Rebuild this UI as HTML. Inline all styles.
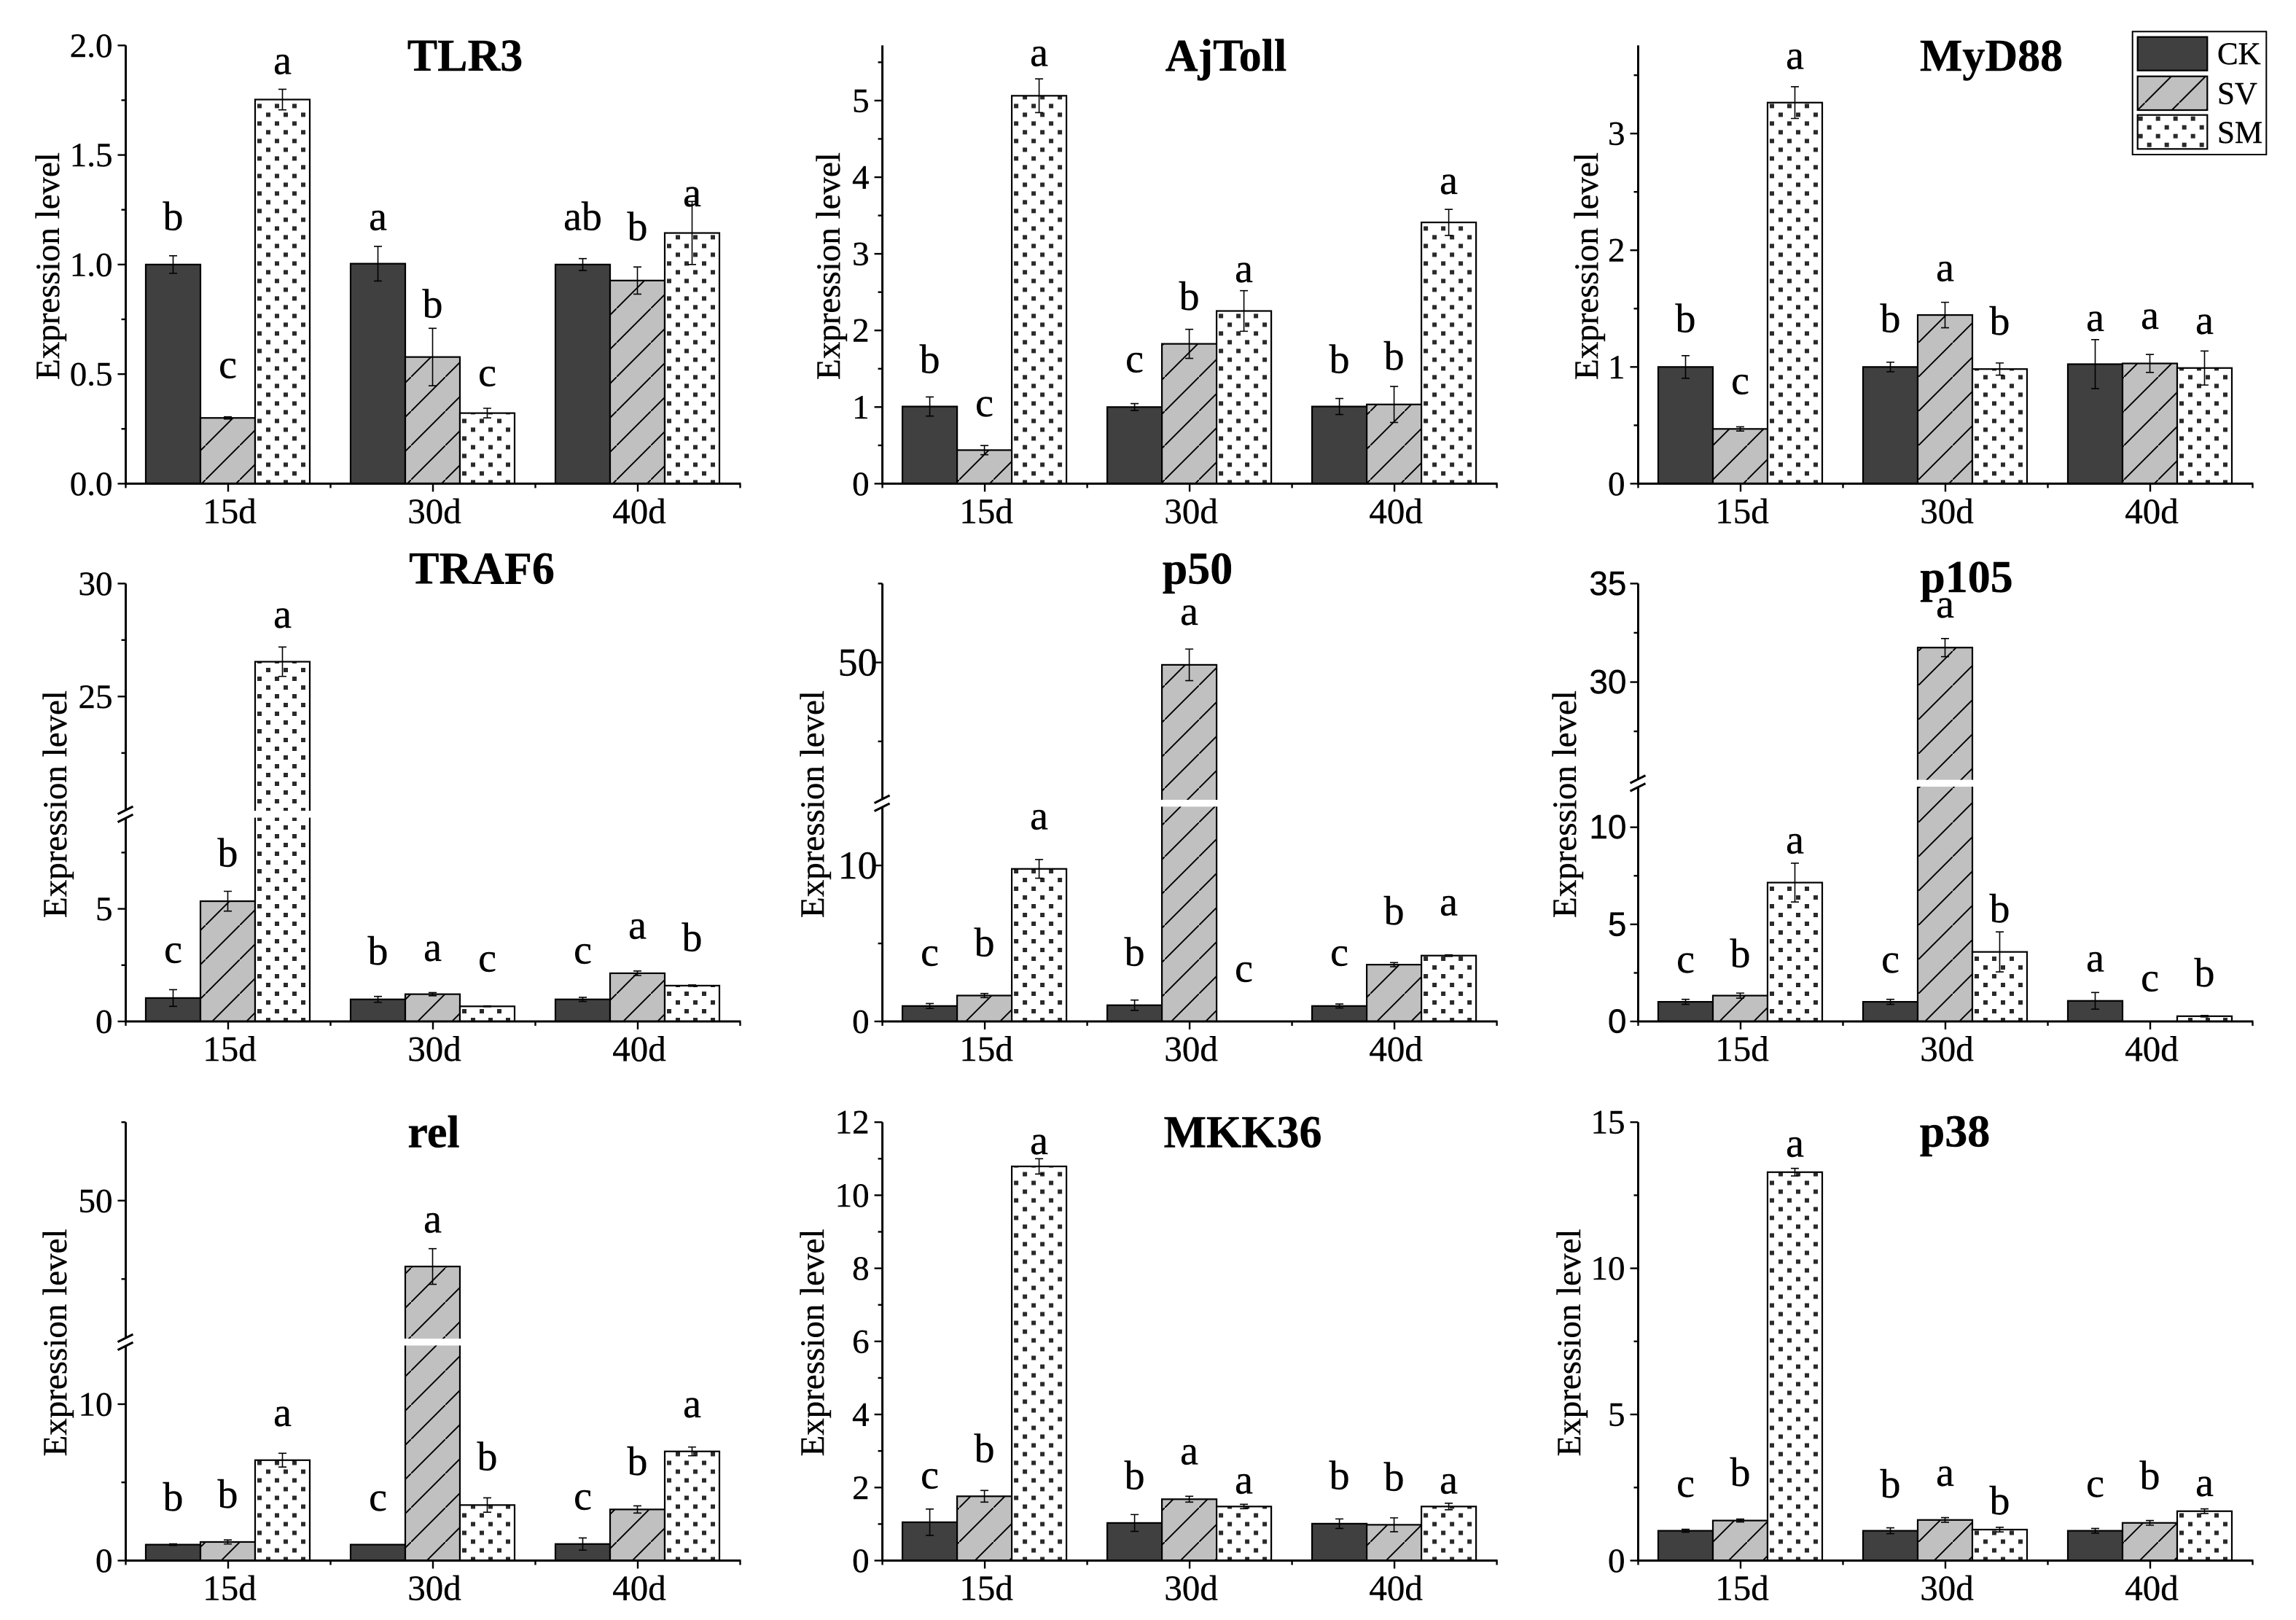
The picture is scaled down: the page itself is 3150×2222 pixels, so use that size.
<!DOCTYPE html>
<html lang="en">
<head>
<meta charset="utf-8">
<title>Expression level panels</title>
<style>
html,body{margin:0;padding:0;background:#fff;}
svg{display:block;}
text{font-family:"Liberation Serif","Times New Roman",serif;fill:#000;stroke:#000;stroke-width:0.4;}
</style>
</head>
<body>
<svg id="figure" xmlns="http://www.w3.org/2000/svg" width="3150" height="2222" viewBox="0 0 3150 2222">
  <defs id="defs">
    <pattern id="hatch" patternUnits="userSpaceOnUse" width="47" height="47">
      <rect width="47" height="47" fill="#c0c0c0"/>
      <path d="M-5,52 L52,-5" stroke="#000" stroke-width="1.9" fill="none"/>
    </pattern>
    <pattern id="legend-hatch" patternUnits="userSpaceOnUse" width="47" height="47" patternTransform="translate(28.7 0)">
      <rect width="47" height="47" fill="#c0c0c0"/>
      <path d="M-5,52 L52,-5" stroke="#000" stroke-width="2" fill="none"/>
    </pattern>
    <pattern id="legend-dots" patternUnits="userSpaceOnUse" x="2933.7" y="159.7" width="24" height="24">
      <rect width="24" height="24" fill="#fff"/>
      <rect x="0" y="0" width="6" height="6" fill="#2a2a2a"/>
      <rect x="12" y="12" width="6" height="6" fill="#2a2a2a"/>
    </pattern>
  </defs>
  <rect width="3150" height="2222" fill="#fff"/>
  <g id="panels"></g>
  <g>
    <rect x="2925.7" y="43.3" width="183.6" height="168.7" fill="#fff" stroke="#000" stroke-width="2"/>
    <rect x="2932.7" y="50.7" width="95.6" height="46" fill="#404040" stroke="#000" stroke-width="2.2"/>
    <text x="3042" y="88" font-size="43">CK</text>
    <rect x="2932.7" y="104.7" width="95.6" height="46.3" fill="url(#legend-hatch)" stroke="#000" stroke-width="2.2"/>
    <text x="3042" y="142.3" font-size="43">SV</text>
    <rect x="2932.7" y="157.7" width="95.6" height="46.6" fill="url(#legend-dots)" stroke="#000" stroke-width="2.2"/>
    <text x="3042" y="196" font-size="43">SM</text>
  </g>
</svg>
<script>
const timePoints = ['15d', '30d', '40d'];
const seriesNames = ['CK', 'SV', 'SM'];

const tlr3Means = [[1.0, 0.30, 1.753], [1.004, 0.578, 0.322], [1.0, 0.927, 1.144]];
const tlr3Errors = [[0.04, 0.005, 0.047], [0.079, 0.131, 0.022], [0.027, 0.062, 0.144]];
const tlr3Letters = [['b', 'c', 'a'], ['a', 'b', 'c'], ['ab', 'b', 'a']];
const tlr3LetterLevels = [[1.158, 0.482, 1.87], [1.158, 0.759, 0.445], [1.158, 1.111, 1.265]];
const tlr3Ticks = ['0.0', '0.5', '1.0', '1.5', '2.0'];
const tlr3MinorTicks = [0.25, 0.75, 1.25, 1.75];

const ajTollMeans = [[1.007, 0.438, 5.063], [1.0, 1.825, 2.254], [1.007, 1.034, 3.41]];
const ajTollErrors = [[0.125, 0.06, 0.22], [0.045, 0.19, 0.265], [0.105, 0.235, 0.17]];
const ajTollLetters = [['b', 'c', 'a'], ['c', 'b', 'a'], ['b', 'b', 'a']];
const ajTollLetterLevels = [[1.445, 0.88, 5.45], [1.454, 2.27, 2.63], [1.445, 1.49, 3.78]];
const ajTollTicks = ['0', '1', '2', '3', '4', '5'];
const ajTollMinorTicks = [0.5, 1.5, 2.5, 3.5, 4.5, 5.5];

const myd88Means = [[1.0, 0.469, 3.265], [1.0, 1.445, 0.982], [1.024, 1.03, 0.991]];
const myd88Errors = [[0.097, 0.018, 0.136], [0.041, 0.109, 0.052], [0.21, 0.077, 0.146]];
const myd88Letters = [['b', 'c', 'a'], ['b', 'a', 'b'], ['a', 'a', 'a']];
const myd88LetterLevels = [[1.298, 0.767, 3.555], [1.298, 1.735, 1.277], [1.307, 1.327, 1.283]];
const myd88Ticks = ['0', '1', '2', '3'];
const myd88MinorTicks = [0.5, 1.5, 2.5, 3.5];

const traf6Means = [[1.04, 5.34, 26.54], [0.98, 1.21, 0.67], [0.98, 2.14, 1.59]];
const traf6Errors = [[0.37, 0.44, 0.65], [0.13, 0.07, 0.02], [0.09, 0.1, 0.03]];
const traf6Letters = [['c', 'b', 'a'], ['b', 'a', 'c'], ['c', 'a', 'b']];
const traf6LetterLevels = [[2.6, 6.88, 28.05], [2.52, 2.68, 2.22], [2.57, 3.67, 3.13]];
const traf6Ticks = ['0', '5', '25', '30'];
const traf6MinorTicks = [2.5, 7.5, 22.5, 27.5];
const traf6Break = [9.05, 19.94];

const p50Means = [[0.99, 1.66, 9.78], [1.04, 49.7, 0], [0.99, 3.64, 4.22]];
const p50Errors = [[0.16, 0.13, 0.6], [0.33, 2.0, 0], [0.13, 0.13, 0.05]];
const p50Letters = [['c', 'b', 'a'], ['b', 'a', 'c'], ['c', 'b', 'a']];
const p50LetterLevels = [[3.58, 4.19, 12.32], [3.58, 54.76, 2.54], [3.58, 6.22, 6.8]];
const p50Ticks = ['0', '10', '50'];
const p50MinorTicks = [5, 40, 60];
const p50Break = [13.77, 32.6];

const p105Means = [[1.01, 1.33, 7.15], [1.01, 31.75, 3.58], [1.06, 0, 0.27]];
const p105Errors = [[0.13, 0.13, 1.0], [0.13, 0.46, 1.03], [0.43, 0, 0.04]];
const p105Letters = [['c', 'b', 'a'], ['c', 'a', 'b'], ['a', 'c', 'b']];
const p105LetterLevels = [[2.52, 2.8, 8.65], [2.52, 33.28, 5.1], [2.57, 1.56, 1.81]];
const p105Ticks = ['0', '5', '10', '30', '35'];
const p105MinorTicks = [2.5, 7.5, 27.5, 32.5];
const p105Break = [12.09, 25.04];

const relMeans = [[1.02, 1.19, 6.42], [1.02, 41.6, 3.55], [1.06, 3.27, 6.98]];
const relErrors = [[0.05, 0.13, 0.44], [0, 2.27, 0.46], [0.39, 0.23, 0.28]];
const relLetters = [['b', 'b', 'a'], ['c', 'a', 'b'], ['c', 'b', 'a']];
const relLetterLevels = [[3.2, 3.38, 8.61], [3.2, 45.95, 5.78], [3.27, 5.47, 9.16]];
const relTicks = ['0', '10', '50'];
const relMinorTicks = [5, 40, 60];
const relBreak = [13.75, 32.4];

const mkk36Means = [[1.05, 1.76, 10.79], [1.03, 1.68, 1.48], [1.01, 0.98, 1.48]];
const mkk36Errors = [[0.36, 0.16, 0.21], [0.23, 0.08, 0.06], [0.13, 0.19, 0.09]];
const mkk36Letters = [['c', 'b', 'a'], ['b', 'a', 'a'], ['b', 'b', 'a']];
const mkk36LetterLevels = [[1.98, 2.69, 11.13], [1.96, 2.63, 1.84], [1.96, 1.92, 1.84]];
const mkk36Ticks = ['0', '2', '4', '6', '8', '10', '12'];
const mkk36MinorTicks = [1, 3, 5, 7, 9, 11];

const p38Means = [[1.02, 1.37, 13.29], [1.02, 1.39, 1.06], [1.02, 1.29, 1.69]];
const p38Errors = [[0.05, 0.05, 0.13], [0.1, 0.08, 0.08], [0.08, 0.08, 0.08]];
const p38Letters = [['c', 'b', 'a'], ['b', 'a', 'b'], ['c', 'b', 'a']];
const p38LetterLevels = [[2.18, 2.56, 13.82], [2.16, 2.56, 1.59], [2.18, 2.44, 2.21]];
const p38Ticks = ['0', '5', '10', '15'];
const p38MinorTicks = [2.5, 7.5, 12.5];

const NS = 'http://www.w3.org/2000/svg';
const rowFrames = [{ top: 62.3, base: 663.4 }, { top: 800.4, base: 1401 }, { top: 1539.2, base: 2140.5 }];
const columnOrigins = [172.5, 1210.6, 2247.5];
const GROUP_W = 281;
const BAR_W = 75;
const GAP_PX = 9.4;

const panels = [
  { title: 'TLR3', key: 'tlr3', col: 0, row: 0, means: tlr3Means, errors: tlr3Errors, letters: tlr3Letters, levels: tlr3LetterLevels, ticks: tlr3Ticks, minor: tlr3MinorTicks, yMax: 2, titleX: 638, titleY: 97, labelX: 81, labelY: 365 },
  { title: 'AjToll', key: 'ajtoll', col: 1, row: 0, means: ajTollMeans, errors: ajTollErrors, letters: ajTollLetters, levels: ajTollLetterLevels, ticks: ajTollTicks, minor: ajTollMinorTicks, yMax: 5.72, titleX: 1682, titleY: 97, labelX: 1152, labelY: 365 },
  { title: 'MyD88', key: 'myd88', col: 2, row: 0, means: myd88Means, errors: myd88Errors, letters: myd88Letters, levels: myd88LetterLevels, ticks: myd88Ticks, minor: myd88MinorTicks, yMax: 3.755, titleX: 2732, titleY: 97, labelX: 2192, labelY: 365 },
  { title: 'TRAF6', key: 'traf6', col: 0, row: 1, means: traf6Means, errors: traf6Errors, letters: traf6Letters, levels: traf6LetterLevels, ticks: traf6Ticks, minor: traf6MinorTicks, yMax: 30, yBreak: traf6Break, lowPx: 279.5, titleX: 661, titleY: 800.4, labelX: 91, labelY: 1103 },
  { title: 'p50', key: 'p50', col: 1, row: 1, means: p50Means, errors: p50Errors, letters: p50Letters, levels: p50LetterLevels, ticks: p50Ticks, minor: p50MinorTicks, yMax: 60, yBreak: p50Break, lowPx: 294.6, wideTwoDigitTicks: true, titleX: 1643, titleY: 800.4, labelX: 1130, labelY: 1103 },
  { title: 'p105', key: 'p105', col: 2, row: 1, means: p105Means, errors: p105Errors, letters: p105Letters, levels: p105LetterLevels, ticks: p105Ticks, minor: p105MinorTicks, yMax: 35, yBreak: p105Break, lowPx: 322, tickFont: '"Liberation Sans", Arial, sans-serif', tickSize: 46, tickNudge: 2, titleX: 2698, titleY: 811.8, labelX: 2162, labelY: 1103 },
  { title: 'rel', key: 'rel', col: 0, row: 2, means: relMeans, errors: relErrors, letters: relLetters, levels: relLetterLevels, ticks: relTicks, minor: relMinorTicks, yMax: 60, yBreak: relBreak, lowPx: 295, titleX: 595, titleY: 1573.7, labelX: 91, labelY: 1841.5 },
  { title: 'MKK36', key: 'mkk36', col: 1, row: 2, means: mkk36Means, errors: mkk36Errors, letters: mkk36Letters, levels: mkk36LetterLevels, ticks: mkk36Ticks, minor: mkk36MinorTicks, yMax: 12, titleX: 1705, titleY: 1573.7, labelX: 1130, labelY: 1841.5 },
  { title: 'p38', key: 'p38', col: 2, row: 2, means: p38Means, errors: p38Errors, letters: p38Letters, levels: p38LetterLevels, ticks: p38Ticks, minor: p38MinorTicks, yMax: 15, titleX: 2682, titleY: 1572.3, labelX: 2168, labelY: 1841.5 }
];

function make(tag, parent, attrs, content) {
  const node = document.createElementNS(NS, tag);
  Object.keys(attrs).forEach(function (k) { node.setAttribute(k, attrs[k]); });
  if (content !== undefined) node.textContent = content;
  parent.appendChild(node);
  return node;
}

function yScale(panel, frame) {
  const H = frame.base - frame.top;
  if (!panel.yBreak) {
    return function (v) { return frame.base - (v / panel.yMax) * H; };
  }
  const lowEnd = panel.yBreak[0];
  const highStart = panel.yBreak[1];
  const lowPx = panel.lowPx;
  const highPx = H - lowPx - GAP_PX;
  return function (v) {
    if (v <= lowEnd) return frame.base - (v / lowEnd) * lowPx;
    if (v >= highStart) return frame.base - lowPx - GAP_PX - ((v - highStart) / (panel.yMax - highStart)) * highPx;
    return frame.base - lowPx - GAP_PX * (v - lowEnd) / (highStart - lowEnd);
  };
}

function drawPanel(panel) {
  const root = document.getElementById('panels');
  const defs = document.getElementById('defs');
  const frame = rowFrames[panel.row];
  const x0 = columnOrigins[panel.col];
  const y = yScale(panel, frame);
  const xCenter = function (g) { return x0 + GROUP_W / 2 + GROUP_W * g; };
  const barLeft = function (g, s) { return xCenter(g) - 1.5 * BAR_W - 0.5 + BAR_W * s; };

  const group = make('g', root, {});
  
  

  const title = make('text', group, { x: panel.titleX, y: panel.titleY, 'font-size': 62, 'font-weight': 'bold', 'text-anchor': 'middle' }, panel.title);
  
  

  const yLabel = make('text', group, { x: panel.labelX, y: panel.labelY, 'font-size': 47, 'text-anchor': 'middle', transform: 'rotate(-90 ' + panel.labelX + ' ' + panel.labelY + ')' }, 'Expression level');
  
  

  panel.means.forEach(function (groupMeans, g) {
    groupMeans.forEach(function (value, s) {
      if (value <= 0) return;
      const left = barLeft(g, s);
      const top = y(value);
      let fill = '#404040';
      if (s === 1) fill = 'url(#hatch)';
      if (s === 2) {
        const dotId = 'dots-' + panel.key + '-' + g;
        const pat = make('pattern', defs, { id: dotId, patternUnits: 'userSpaceOnUse', x: left + 3, y: frame.base - 5, width: 24, height: 24 });
        make('rect', pat, { width: 24, height: 24, fill: '#fff' });
        make('rect', pat, { x: 0, y: 12, width: 6, height: 6, fill: '#2a2a2a' });
        make('rect', pat, { x: 12, y: 0, width: 6, height: 6, fill: '#2a2a2a' });
        fill = 'url(#' + dotId + ')';
      }
      const bar = make('rect', group, { x: left, y: top, width: BAR_W, height: frame.base - top, fill: fill, stroke: '#000', 'stroke-width': 2.2 });
      
      
      if (panel.yBreak && value > panel.yBreak[1]) {
        const gap = make('rect', group, { x: left - 2, y: frame.base - panel.lowPx - GAP_PX, width: BAR_W + 4, height: GAP_PX, fill: '#fff' });
        
        
      }
    });
  });

  panel.errors.forEach(function (groupErrors, g) {
    groupErrors.forEach(function (err, s) {
      const value = panel.means[g][s];
      if (err <= 0 || value <= 0) return;
      const cx = barLeft(g, s) + BAR_W / 2;
      const yHi = y(value + err);
      const yLo = y(value - err);
      const d = 'M' + cx + ',' + yHi + 'V' + yLo + 'M' + (cx - 5.5) + ',' + yHi + 'H' + (cx + 5.5) + 'M' + (cx - 5.5) + ',' + yLo + 'H' + (cx + 5.5);
      const bar = make('path', group, { d: d, stroke: '#000', 'stroke-width': 1.6, fill: 'none' });
      
      
    });
  });

  panel.letters.forEach(function (groupLetters, g) {
    groupLetters.forEach(function (letter, s) {
      const cx = barLeft(g, s) + BAR_W / 2;
      const mark = make('text', group, { x: cx, y: y(panel.levels[g][s]), 'font-size': 56, 'text-anchor': 'middle' }, letter);
      
      
    });
  });

  const xEnd = x0 + GROUP_W * 3 + 1;
  const xAxis = make('line', group, { x1: x0 - 1.5, x2: xEnd, y1: frame.base, y2: frame.base, stroke: '#000', 'stroke-width': 3 });
  
  

  const yAxis = make('line', group, { x1: x0, x2: x0, y1: frame.top, y2: frame.base + 1.5, stroke: '#000', 'stroke-width': 3 });
  
  

  if (panel.yBreak) {
    const gapTop = frame.base - panel.lowPx - GAP_PX;
    const axisGap = make('rect', group, { x: x0 - 3, y: gapTop, width: 6, height: GAP_PX, fill: '#fff' });
    
    
    const slashes = make('path', group, { d: 'M' + (x0 - 11) + ',' + (gapTop + 4.5) + 'l21,-10.5M' + (x0 - 11) + ',' + (gapTop + 15.5) + 'l21,-10.5', stroke: '#000', 'stroke-width': 3, fill: 'none' });
    
    
  }

  for (let g = 0; g <= 3; g++) {
    const minorX = x0 + GROUP_W * g;
    const minor = make('line', group, { x1: minorX, x2: minorX, y1: frame.base, y2: frame.base + 6, stroke: '#000', 'stroke-width': 2.4 });
    
    
  }

  timePoints.forEach(function (label, g) {
    const tx = xCenter(g);
    const tick = make('line', group, { x1: tx, x2: tx, y1: frame.base, y2: frame.base + 11, stroke: '#000', 'stroke-width': 2.4 });
    
    
    const text = make('text', group, { x: tx + 2, y: frame.base + 54, 'font-size': 49, 'text-anchor': 'middle' }, label);
    
    
  });

  panel.ticks.forEach(function (label) {
    const ty = y(parseFloat(label));
    const wide = panel.wideTwoDigitTicks && label.length === 2;
    const tick = make('line', group, { x1: x0 - 11, x2: x0, y1: ty, y2: ty, stroke: '#000', 'stroke-width': 2.4 });
    
    
    const text = make('text', group, { x: x0 - (wide ? 7 : 18) + (panel.tickNudge || 0), y: ty + (wide ? 18 : 15.5), 'font-size': wide ? 54 : (panel.tickSize || 47), 'text-anchor': 'end' }, label);
    if (panel.tickFont) text.style.fontFamily = panel.tickFont;
    
    
  });

  panel.minor.forEach(function (value) {
    const ty = y(value);
    const tick = make('line', group, { x1: x0 - 6, x2: x0, y1: ty, y2: ty, stroke: '#000', 'stroke-width': 2.4 });
    
    
  });
}

panels.forEach(drawPanel);
</script>
</body>
</html>
